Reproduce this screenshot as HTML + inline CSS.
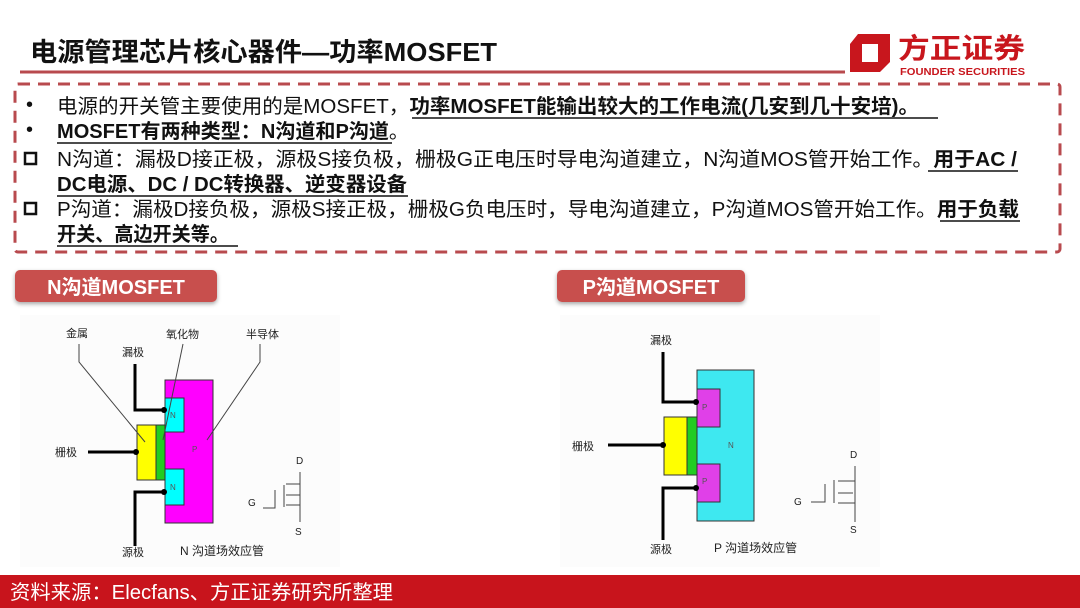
<!DOCTYPE html>
<html><head><meta charset="utf-8"><style>
body{margin:0;width:1080px;height:608px;overflow:hidden;background:#fff;font-family:"Liberation Sans","Noto Sans CJK SC",sans-serif;}
svg{display:block}
.t{font-family:"Liberation Sans","Noto Sans CJK SC",sans-serif;}
</style></head><body>
<svg width="1080" height="608" viewBox="0 0 1080 608" xmlns="http://www.w3.org/2000/svg">
<defs><filter id="sh" x="-10%" y="-20%" width="120%" height="160%"><feDropShadow dx="0" dy="2" stdDeviation="2" flood-color="#000" flood-opacity="0.35"/></filter></defs>
<!-- title -->
<text x="30" y="61" class="t" font-size="26" font-weight="bold" fill="#111" textLength="467" lengthAdjust="spacingAndGlyphs">电源管理芯片核心器件—功率MOSFET</text>
<line x1="20" y1="72" x2="845" y2="72" stroke="#b84a4e" stroke-width="3"/>
<!-- logo -->
<path d="M858 34 L890 34 L890 62 L880 72 L850 72 L850 44 Z M862 44 L862 62 L878 62 L878 44 Z" fill="#c8161d" fill-rule="evenodd"/>
<text x="898" y="58" class="t" font-size="28" font-weight="bold" fill="#c8161d" textLength="127" lengthAdjust="spacingAndGlyphs">方正证券</text>
<text x="900" y="75" class="t" font-size="10.5" font-weight="bold" fill="#c8161d" textLength="125" lengthAdjust="spacingAndGlyphs">FOUNDER SECURITIES</text>
<!-- dashed box -->
<rect x="15" y="84" width="1045" height="168" rx="3" fill="none" stroke="#b84a4e" stroke-width="3" stroke-dasharray="12,8"/>
<g class="t" font-size="20" fill="#111">
<text x="26" y="111">•</text>
<text x="57" y="113" textLength="862" lengthAdjust="spacingAndGlyphs">电源的开关管主要使用的是MOSFET，<tspan font-weight="bold">功率MOSFET能输出较大的工作电流(几安到几十安培)。</tspan></text>
<line x1="412" y1="118" x2="938" y2="118" stroke="#111" stroke-width="1.5"/>
<text x="26" y="136">•</text>
<text x="57" y="138" font-weight="bold" textLength="352" lengthAdjust="spacingAndGlyphs">MOSFET有两种类型：N沟道和P沟道<tspan font-weight="normal">。</tspan></text>
<line x1="57" y1="143" x2="392" y2="143" stroke="#111" stroke-width="1.5"/>
<rect x="25" y="153" width="11" height="11" fill="none" stroke="#111" stroke-width="2.5"/>
<text x="57" y="166" textLength="960" lengthAdjust="spacingAndGlyphs">N沟道：漏极D接正极，源极S接负极，栅极G正电压时导电沟道建立，N沟道MOS管开始工作。<tspan font-weight="bold">用于AC /</tspan></text>
<line x1="928" y1="171" x2="1018" y2="171" stroke="#111" stroke-width="1.5"/>
<text x="57" y="191" font-weight="bold" textLength="350" lengthAdjust="spacingAndGlyphs">DC电源、DC / DC转换器、逆变器设备</text>
<line x1="57" y1="196" x2="408" y2="196" stroke="#111" stroke-width="1.5"/>
<rect x="25" y="203" width="11" height="11" fill="none" stroke="#111" stroke-width="2.5"/>
<text x="57" y="216" textLength="962" lengthAdjust="spacingAndGlyphs">P沟道：漏极D接负极，源极S接正极，栅极G负电压时，导电沟道建立，P沟道MOS管开始工作。<tspan font-weight="bold">用于负载</tspan></text>
<line x1="940" y1="221" x2="1020" y2="221" stroke="#111" stroke-width="1.5"/>
<text x="57" y="241" font-weight="bold" textLength="172" lengthAdjust="spacingAndGlyphs">开关、高边开关等。</text>
<line x1="57" y1="246" x2="238" y2="246" stroke="#111" stroke-width="1.5"/>
</g>
<!-- badges -->
<rect x="15" y="270" width="202" height="32" rx="5" fill="#c8504d" filter="url(#sh)"/>
<text x="116" y="294" text-anchor="middle" class="t" font-size="20" font-weight="bold" fill="#fff">N沟道MOSFET</text>
<rect x="557" y="270" width="188" height="32" rx="5" fill="#c8504d" filter="url(#sh)"/>
<text x="651" y="294" text-anchor="middle" class="t" font-size="20" font-weight="bold" fill="#fff">P沟道MOSFET</text>
<!-- N diagram -->
<rect x="20" y="315" width="320" height="252" fill="#fcfcfc"/>
<g class="t" font-size="11" fill="#222">
<text x="66" y="337">金属</text><text x="166" y="338">氧化物</text><text x="246" y="338">半导体</text>
<text x="122" y="356">漏极</text><text x="55" y="456">栅极</text><text x="122" y="556">源极</text>
<text x="180" y="555" font-size="12">N 沟道场效应管</text>
<text x="296" y="464" font-size="10">D</text><text x="248" y="506" font-size="10">G</text><text x="295" y="535" font-size="10">S</text>
</g>
<rect x="165" y="380" width="48" height="143" fill="#f0f" stroke="#333" stroke-width="1"/>
<rect x="165" y="398" width="19" height="34" fill="#0ff" stroke="#333" stroke-width="1"/>
<rect x="165" y="469" width="19" height="36" fill="#0ff" stroke="#333" stroke-width="1"/>
<rect x="137" y="425" width="19" height="55" fill="#ff0" stroke="#333" stroke-width="1"/>
<rect x="156" y="425" width="9" height="55" fill="#2c2" stroke="#333" stroke-width="1"/>
<g font-size="8" fill="#555" class="t"><text x="170" y="418">N</text><text x="170" y="490">N</text><text x="192" y="452">P</text></g>
<polyline points="135,364 135,410 165,410" fill="none" stroke="#000" stroke-width="3"/>
<line x1="88" y1="452" x2="137" y2="452" stroke="#000" stroke-width="3"/>
<polyline points="165,492 135,492 135,546" fill="none" stroke="#000" stroke-width="3"/>
<circle cx="164" cy="410" r="3"/><circle cx="136" cy="452" r="3"/><circle cx="164" cy="492" r="3"/>
<g stroke="#444" stroke-width="1" fill="none">
<polyline points="79,344 79,362 145,442"/><polyline points="183,344 163,440"/><polyline points="260,344 260,362 207,440"/>
<polyline points="263,508 275,508 275,490"/><line x1="284" y1="485" x2="284" y2="507"/>
<polyline points="300,472 300,484 286,484"/><polyline points="286,495 300,495"/><polyline points="286,505 300,505 300,522"/><line x1="300" y1="484" x2="300" y2="505"/>
</g>
<!-- P diagram -->
<rect x="560" y="315" width="320" height="252" fill="#fcfcfc"/>
<g class="t" font-size="11" fill="#222">
<text x="650" y="344">漏极</text><text x="572" y="450">栅极</text><text x="650" y="553">源极</text>
<text x="714" y="552" font-size="12">P 沟道场效应管</text>
<text x="850" y="458" font-size="10">D</text><text x="794" y="505" font-size="10">G</text><text x="850" y="533" font-size="10">S</text>
</g>
<rect x="697" y="370" width="57" height="151" fill="#3ee8f0" stroke="#333" stroke-width="1"/>
<rect x="697" y="389" width="23" height="38" fill="#e040e8" stroke="#333" stroke-width="1"/>
<rect x="697" y="464" width="23" height="38" fill="#e040e8" stroke="#333" stroke-width="1"/>
<rect x="664" y="417" width="23" height="58" fill="#ff0" stroke="#333" stroke-width="1"/>
<rect x="687" y="417" width="10" height="58" fill="#2c2" stroke="#333" stroke-width="1"/>
<g font-size="8" fill="#555" class="t"><text x="702" y="410">P</text><text x="702" y="484">P</text><text x="728" y="448">N</text></g>
<polyline points="663,352 663,402 697,402" fill="none" stroke="#000" stroke-width="3"/>
<line x1="608" y1="445" x2="664" y2="445" stroke="#000" stroke-width="3"/>
<polyline points="697,488 663,488 663,540" fill="none" stroke="#000" stroke-width="3"/>
<circle cx="696" cy="402" r="3"/><circle cx="663" cy="445" r="3"/><circle cx="696" cy="488" r="3"/>
<g stroke="#444" stroke-width="1" fill="none">
<polyline points="811,502 825,502 825,484"/><line x1="834" y1="480" x2="834" y2="503"/>
<polyline points="855,466 855,481 838,481"/><polyline points="838,493 853,493"/><polyline points="838,503 855,503 855,522"/><line x1="855" y1="481" x2="855" y2="503"/>
</g>
<!-- footer -->
<rect x="0" y="575" width="1080" height="33" fill="#c8141c"/>
<text x="10" y="599" class="t" font-size="20" fill="#fff" textLength="383" lengthAdjust="spacingAndGlyphs">资料来源：Elecfans、方正证券研究所整理</text>
</svg>
</body></html>
